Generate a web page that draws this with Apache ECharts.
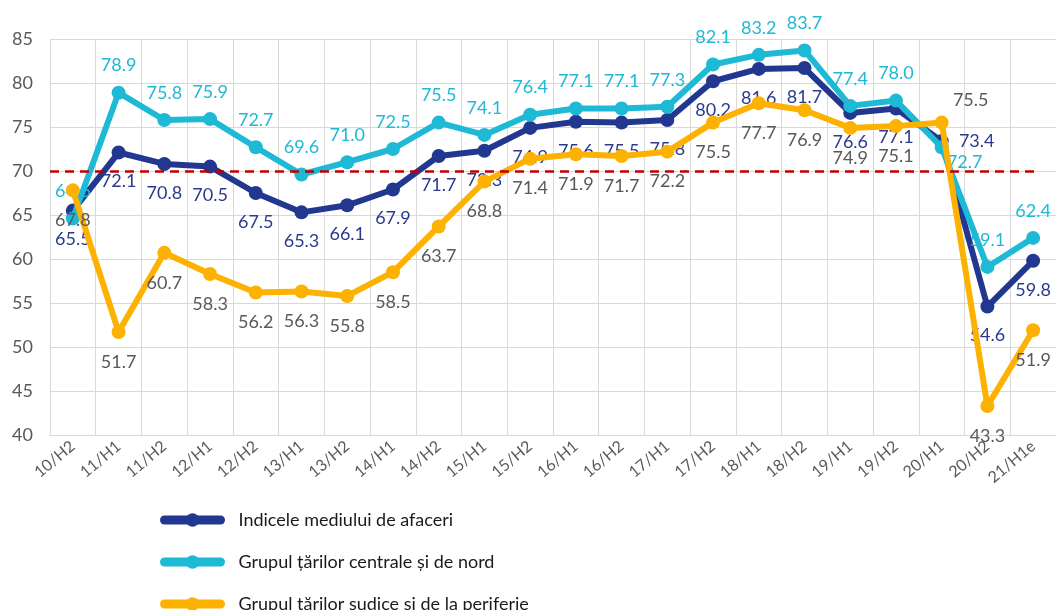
<!DOCTYPE html>
<html>
<head>
<meta charset="utf-8">
<script src="https://cdn.jsdelivr.net/npm/echarts@6/dist/echarts.min.js"></script>
<style>
  html, body { margin: 0; padding: 0; background: #fff; }
  #chart { width: 1056px; height: 610px; }
</style>
</head>
<body>
<div id="chart"></div>
<script>
const categories = ['10/H2','11/H1','11/H2','12/H1','12/H2','13/H1','13/H2','14/H1','14/H2','15/H1','15/H2',
  '16/H1','16/H2','17/H1','17/H2','18/H1','18/H2','19/H1','19/H2','20/H1','20/H2','21/H1e'];
const indexValues = [65.5, 72.1, 70.8, 70.5, 67.5, 65.3, 66.1, 67.9, 71.7, 72.3, 74.9,
  75.6, 75.5, 75.8, 80.2, 81.6, 81.7, 76.6, 77.1, 73.4, 54.6, 59.8];
const centralValues = [64.6, 78.9, 75.8, 75.9, 72.7, 69.6, 71.0, 72.5, 75.5, 74.1, 76.4,
  77.1, 77.1, 77.3, 82.1, 83.2, 83.7, 77.4, 78.0, 72.7, 59.1, 62.4];
const peripheryValues = [67.8, 51.7, 60.7, 58.3, 56.2, 56.3, 55.8, 58.5, 63.7, 68.8, 71.4,
  71.9, 71.7, 72.2, 75.5, 77.7, 76.9, 74.9, 75.1, 75.5, 43.3, 51.9];
const seriesNames = ['Indicele mediului de afaceri', 'Grupul țărilor centrale și de nord', 'Grupul țărilor sudice și de la periferie'];
const threshold = 70;
const yMin = 40, yMax = 85, yStep = 5;

const FONT = 'Lato';
const colors = ['#22378F', '#1EB9D5', '#FDB100'];
const labelColors = ['#2B3A8E', '#1EB9D5', '#595959'];
const baseOffsets = [[0, 29], [0, -27], [0, 30]];
// special label placements (index 19 = 20/H1)
const specialOffsets = [{19: [35, 0]}, {19: [23, 15]}, {19: [29, -22]}];

function buildData(values, s) {
  return values.map((v, i) => {
    const off = specialOffsets[s][i] || baseOffsets[s];
    return { value: v, label: { offset: off } };
  });
}

const allValues = [indexValues, centralValues, peripheryValues];
const zs = [2, 3, 4];

const series = allValues.map((vals, s) => ({
  name: seriesNames[s],
  type: 'line',
  data: buildData(vals, s),
  z: zs[s],
  symbol: 'circle',
  symbolSize: 14,
  lineStyle: { width: 6, color: colors[s], cap: 'round', join: 'round' },
  itemStyle: { color: colors[s] },
  label: {
    show: true,
    position: 'inside',
    color: labelColors[s],
    fontFamily: FONT,
    fontSize: 18,
    formatter: p => p.value.toFixed(1)
  },
  emphasis: { disabled: true },
  animation: false
}));

series[0].markLine = {
  silent: true,
  symbol: 'none',
  label: { show: false },
  lineStyle: { color: '#C00000', type: [9, 6], width: 2.5 },
  data: [[
    { coord: [categories[0], threshold], x: 50 },
    { coord: [categories[categories.length - 1], threshold], x: 1038 }
  ]],
  animation: false
};

const chart = echarts.init(document.getElementById('chart'), null, { renderer: 'canvas' });
chart.setOption({
  backgroundColor: '#ffffff',
  animation: false,
  textStyle: { fontFamily: FONT },
  grid: { left: 50, right: -13, top: 39, bottom: 175, containLabel: false },
  xAxis: {
    type: 'category',
    data: categories,
    boundaryGap: true,
    axisLine: { show: true, lineStyle: { color: '#D9D9D9', width: 1 } },
    axisTick: { show: false },
    splitLine: { show: true, lineStyle: { color: '#D9D9D9', width: 1 } },
    axisLabel: { rotate: 40, color: '#595959', fontFamily: FONT, fontSize: 16, margin: 9, interval: 0 }
  },
  yAxis: {
    type: 'value',
    min: yMin, max: yMax, interval: yStep,
    axisLine: { show: false },
    axisTick: { show: false },
    splitLine: { show: true, lineStyle: { color: '#D9D9D9', width: 1 } },
    axisLabel: { color: '#595959', fontFamily: FONT, fontSize: 18, margin: 17 }
  },
  legend: {
    orient: 'vertical',
    left: 160,
    top: 511,
    height: 140,
    padding: 0,
    itemWidth: 56,
    itemHeight: 17,
    itemGap: 24,
    data: seriesNames,
    lineStyle: { width: 9, cap: 'round' },
    textStyle: { color: '#1a1a1a', fontFamily: FONT, fontSize: 18, padding: [0, 0, 0, 13] },
    selectedMode: false
  },
  series: series
});
</script>
</body>
</html>
